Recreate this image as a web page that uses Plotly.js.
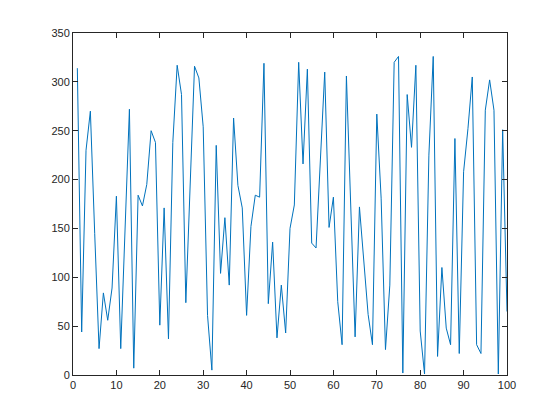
<!DOCTYPE html>
<html>
<head>
<meta charset="utf-8">
<script src="https://cdn.plot.ly/plotly-3.0.1.min.js"></script>
<style>html,body{margin:0;padding:0;background:#fff;}#chart{width:560px;height:420px;}</style>
</head>
<body>
<div id="chart"></div>
<script>
const xValues = Array.from({length: 100}, (_, i) => i + 1);
const yValues = [
  314, 44, 230, 270, 145, 27, 84, 56, 89, 183,
  27, 153, 272, 7, 184, 173, 195, 250, 238, 51,
  171, 37, 238, 317, 287, 74, 195, 316, 304, 254,
  61, 5, 235, 104, 161, 92, 263, 194, 171, 61,
  152, 184, 182, 319, 73, 136, 38, 92, 43, 150,
  174, 320, 216, 313, 135, 130, 220, 310, 151, 182,
  75, 31, 306, 165, 39, 172, 120, 62, 31, 267,
  181, 26, 92, 320, 326, 2, 287, 233, 317, 45,
  1, 225, 326, 19, 110, 48, 31, 242, 22, 208,
  252, 305, 31, 22, 271, 302, 271, 1, 251, 65
];
const xTicks = [0, 10, 20, 30, 40, 50, 60, 70, 80, 90, 100];
const yTicks = [0, 50, 100, 150, 200, 250, 300, 350];

const axisCommon = {
  showgrid: false,
  zeroline: false,
  showline: true,
  linecolor: '#262626',
  linewidth: 1,
  mirror: 'ticks',
  ticks: 'inside',
  ticklen: 5,
  tickwidth: 1,
  tickcolor: '#262626',
  tickfont: {family: 'Liberation Sans, Arial, sans-serif', size: 11, color: '#262626'},
  tickmode: 'array'
};

Plotly.newPlot('chart', [{
  x: xValues,
  y: yValues,
  type: 'scatter',
  mode: 'lines',
  line: {color: '#0072BD', width: 1},
  hoverinfo: 'none'
}], {
  width: 560,
  height: 420,
  margin: {l: 73, r: 53, t: 33, b: 45},
  paper_bgcolor: '#ffffff',
  plot_bgcolor: '#ffffff',
  showlegend: false,
  xaxis: Object.assign({}, axisCommon, {range: [0, 100], tickvals: xTicks, ticktext: xTicks.map(String)}),
  yaxis: Object.assign({}, axisCommon, {range: [0, 350], tickvals: yTicks, ticktext: yTicks.map(String)})
}, {staticPlot: true, displayModeBar: false});
</script>
</body>
</html>
